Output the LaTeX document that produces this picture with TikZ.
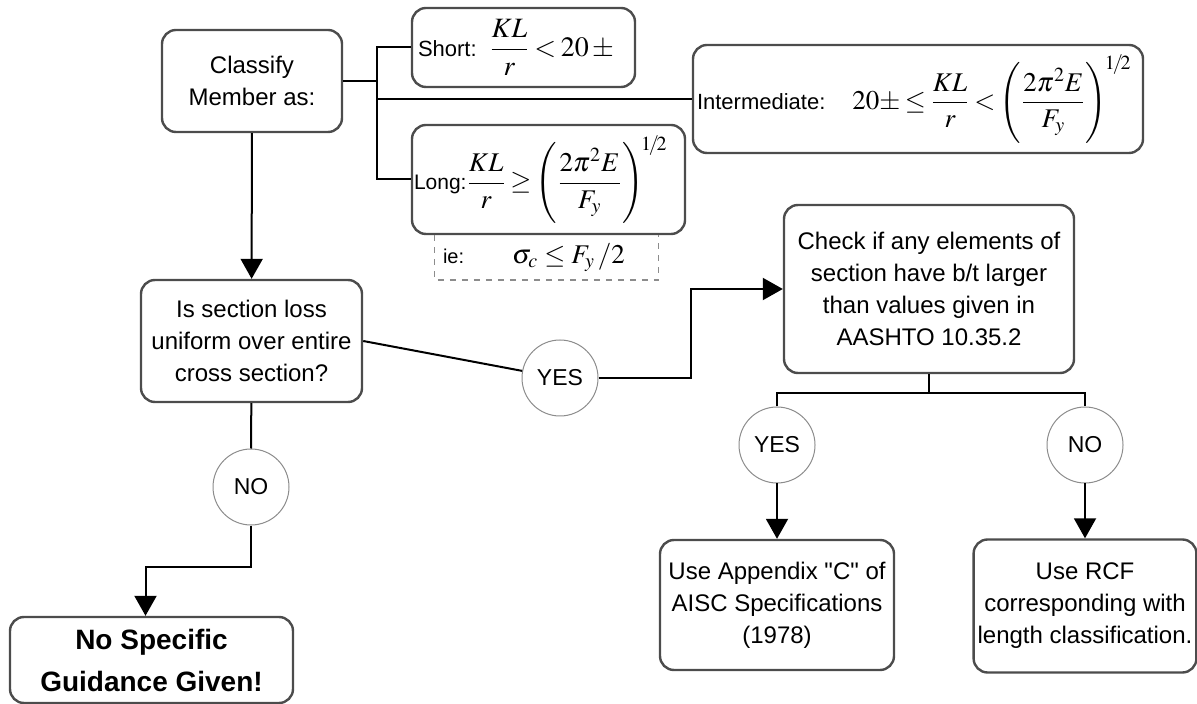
\documentclass[tikz,border=0pt]{standalone}
\usepackage{amsmath}
\usepackage{mathptmx}
\usepackage[no-math]{fontspec}
\setmainfont{Liberation Sans}[Ligatures=TeXOff]
\usetikzlibrary{arrows.meta,calc,positioning}
\newcommand{\lbl}[2][11]{{\fontsize{#1}{12}\selectfont #2}}
\newcommand{\tightmath}{\thickmuskip=3mu\relax\medmuskip=2mu\relax}
\newcommand{\halfpow}{^{\!1\!/\!2}}
\tikzset{
    box/.style = {
        draw = black!70,
        line width = 1.2pt,
        rounded corners = 7pt,
        align = center,
        inner sep = 2pt,
        font = \fontsize{12}{16}\selectfont,
        },
    class box/.style = {
        box,
        align = left,
        inner xsep = 3pt,
        font = \fontsize{13.5}{16}\selectfont,
        },
    final box/.style = {
        box,
        font = \fontsize{14}{21}\selectfont\bfseries,
        },
    answer/.style = {
        draw = black!45,
        line width = 0.5pt,
        circle,
        minimum size = 38pt,
        inner sep = 0pt,
        font = \fontsize{11.5}{14}\selectfont,
        },
    link/.style = {
        line width = 1pt,
        },
    flow/.style = {
        link,
        -{Triangle[length=10pt,width=11pt]},
        },
}

\begin{document}
\begin{tikzpicture}[x=0.5pt, y=-0.5pt]
            \useasboundingbox (0,0) rectangle (1197,704);

            \node[box, minimum width=90pt, minimum height=51pt] (classify) at (252,81) {Classify\\Member as:};
            \node[class box, text width=105.5pt, minimum height=39.5pt, font=\fontsize{14}{16}\selectfont] (short) at (523.5,47.5)
                {\mbox{\lbl{Short:}\;\,$\tightmath\displaystyle\frac{KL}{r}<20\,\pm$}};
            \node[class box, text width=134.5pt, minimum height=54.5pt, inner xsep=1pt] (long) at (548.5,179.5)
                {\mbox{\lbl[10.5]{Long:}$\tightmath\displaystyle\frac{KL}{r}\ge\Biggl(\frac{2\pi^2E}{F_y}\Biggr)\halfpow$}};
            \node[class box, text width=221pt, minimum height=54pt, inner xsep=2pt] (inter) at (918,99)
                {\mbox{\lbl{Intermediate:}\quad$\tightmath\displaystyle 20{\pm}\le\frac{KL}{r}<\Biggl(\frac{2\pi^2E}{F_y}\Biggr)\halfpow$}};
            \node[below=0pt of long, xshift=-1pt, text width=103.5pt, minimum height=22pt,
                  inner xsep=4pt, inner ysep=0pt, align=left, font=\fontsize{13.5}{15}\selectfont] (ie)
                {\lbl[10]{ie:}\quad\; $\sigma_c\le F_y\,/2$};

            \node[box, minimum width=110.5pt, minimum height=61pt] (section) at (251.5,341)
                {Is section loss\\uniform over entire\\cross section?};
            \node[final box, minimum width=141.5pt, minimum height=43pt] (nospec) at (151.5,660)
                {No Specific\\Guidance Given!};
            \node[box, minimum width=145pt, minimum height=84pt] (check) at (929,289)
                {Check if any elements of\\section have b/t larger\\than values given in\\AASHTO 10.35.2};
            \node[box, minimum width=117pt, minimum height=65pt] (appx) at (777,605)
                {Use Appendix "C" of\\AISC Specifications\\(1978)};
            \node[box, minimum width=110pt, minimum height=66.5pt] (rcf) at (1085,606)
                {Use RCF\\corresponding with\\length classification.};

            \node[answer] (yes1) at (560,378) {YES};
            \node[answer] (no1) at (251,487) {NO};
            \node[answer] (yes2) at (777,445) {YES};
            \node[answer] (no2) at (1085,445) {NO};

            % classification bracket
            \coordinate (brk) at (377,99);
            \draw[link] (classify.east) -- (classify.east -| brk);
            \draw[link] (short.west) -| (brk) |- (long.west);
            \draw[link] (brk) -- (inter.west);
            \draw[dashed, black!45, line width=0.8pt] (ie.north west) |- (ie.south east) -- (ie.north east);

            \path (classify) edge[flow] (section);
            \draw[link] (section) -- (no1);
            \draw[link] (section.east) -- (yes1);
            \coordinate (bend1) at (251,567);
            \draw[flow] (no1) -- (bend1) -| ([xshift=-3pt]nospec.north);
            \draw[flow] (yes1.east) -| ($(yes1.east)!0.5!(check.west)$) |- (check.west);

            \coordinate (split) at ([yshift=-9.5pt]check.south);
            \draw[link] (check.south) -- (split);
            \draw[link] (yes2.north) |- (split) -| (no2.north);
            \path (yes2) edge[flow] (appx);
            \path (no2) edge[flow] (rcf);
        \end{tikzpicture}
\end{document}
